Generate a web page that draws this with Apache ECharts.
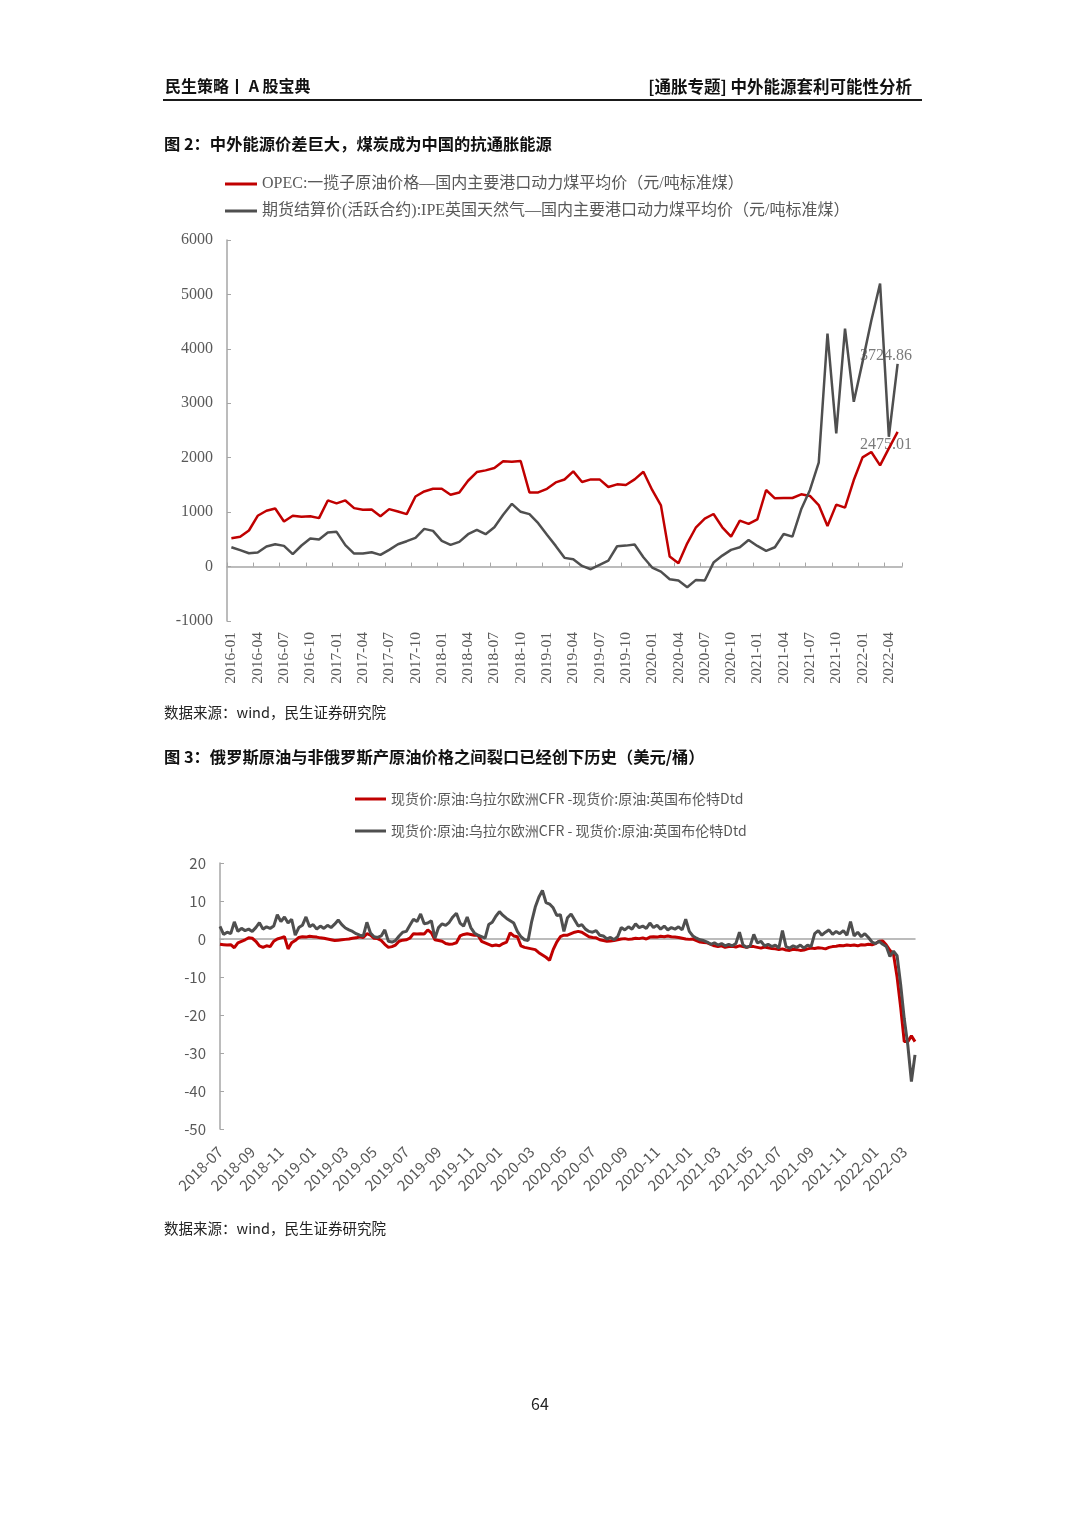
<!DOCTYPE html>
<html><head><meta charset="utf-8">
<script src="https://cdn.jsdelivr.net/npm/echarts@6/dist/echarts.min.js"></script>
<style>html,body{margin:0;padding:0;background:#fff}#c{width:1080px;height:1530px}</style>
</head><body><div id="c"></div>
<script>
// ---------- Chart 1 (monthly, 2016-01 .. 2022-05) ----------
const c1Start = [2016, 1];
const c1Count = 77;
const c1Names = ['OPEC:一揽子原油价格—国内主要港口动力煤平均价（元/吨标准煤）',
                 '期货结算价(活跃合约):IPE英国天然气—国内主要港口动力煤平均价（元/吨标准煤）'];
const c1Red = [521,546,663,933,1025,1067,828,933,914,926,
  890,1215,1160,1215,1074,1043,1049,926,1055,1012,
  963,1288,1380,1429,1429,1319,1362,1577,1736,1767,
  1810,1933,1926,1939,1362,1362,1429,1546,1600,1749,
  1554,1602,1602,1462,1511,1498,1602,1743,1407,1125,
  183,61,428,722,881,966,722,550,844,783,
  869,1407,1254,1260,1260,1327,1297,1131,746,1138,
  1083,1590,2006,2104,1859,2171,2475.01];
const c1Gray = [356,301,245,258,368,411,380,227,387,515,
  497,626,638,393,239,239,264,215,307,411,
  466,528,693,656,472,399,454,595,675,595,
  724,951,1153,1006,963,798,583,380,160,135,
  12,-49,31,110,373,385,404,171,-18,-92,
  -232,-257,-379,-245,-257,73,202,306,355,489,
  379,287,355,599,550,1052,1407,1908,4281,2446,
  4373,3028,3761,4520,5199,2385,3724.86];
const c1YTicks = {min: -1000, max: 6000, interval: 1000};

// ---------- Chart 2 (weekly samples, 2018-07 .. 2022-03) ----------
const c2StartDate = '2018-07-02';
const c2Names = ['现货价:原油:乌拉尔欧洲CFR -现货价:原油:英国布伦特Dtd',
                 '现货价:原油:乌拉尔欧洲CFR - 现货价:原油:英国布伦特Dtd'];
const c2Red = [-1.4,-1.5,-1.6,-1.5,-2.3,-1.0,-0.6,-0.2,0.3,0.2,
  -0.6,-1.8,-2.2,-1.8,-2.0,-0.6,0.0,0.3,0.6,-2.6,
  -1.0,-0.4,0.4,0.6,0.5,0.7,0.6,0.5,0.3,0.2,
  0.0,-0.2,-0.4,-0.3,-0.2,-0.1,0.0,0.2,0.3,0.6,
  0.4,1.4,1.0,0.2,0.1,-0.4,-1.4,-2.2,-2.0,-1.6,
  -0.6,-0.3,-0.2,0.2,1.4,1.3,1.4,1.3,2.4,1.6,
  -0.2,-0.4,-0.6,-1.2,-1.4,-1.3,-1.0,0.8,1.2,1.4,
  1.2,1.0,1.0,-0.6,-1.0,-1.4,-1.8,-1.6,-1.8,-1.2,
  -0.8,1.6,0.8,0.6,-1.8,-2.2,-2.4,-2.6,-2.8,-3.6,
  -4.2,-4.8,-5.6,-2.8,-0.8,0.6,1.0,1.0,
  1.4,1.8,2.0,1.8,1.2,0.6,0.4,0.3,-0.2,-0.4,
  -0.6,-0.5,-0.4,-0.2,0.0,0.1,-0.1,0.0,0.2,0.1,
  0.3,0.0,0.5,0.6,0.5,0.7,0.6,0.8,0.6,0.5,
  0.4,0.2,0.0,-0.1,0.0,-0.4,-0.8,-0.9,-1.0,-1.4,
  -1.8,-2.0,-1.8,-2.2,-2.0,-1.9,-2.1,-1.8,-2.0,-2.2,
  -1.9,-2.0,-2.2,-2.4,-2.1,-2.3,-2.5,-2.6,-2.8,-2.6,
  -2.9,-3.0,-2.7,-2.8,-3.0,-2.9,-2.6,-2.4,-2.5,-2.3,
  -2.4,-2.6,-2.2,-2.0,-1.9,-1.7,-1.8,-1.6,-1.7,-1.6,
  -1.8,-1.5,-1.6,-1.4,-1.5,-1.2,-0.6,-0.5,-1.6,-3.0,
  -4.0,-10.0,-18.0,-27.0,-27.0,-25.5,-27.0];
const c2Gray = [3.3,1.2,1.8,1.4,4.5,2.0,2.8,2.2,2.6,2.0,
  3.0,4.3,2.6,3.2,2.8,3.4,6.4,4.6,5.8,4.2,
  5.2,1.0,3.0,3.6,5.8,3.2,3.8,2.6,3.4,2.8,
  3.6,3.0,3.9,5.0,3.8,2.9,2.4,2.0,1.4,1.0,
  0.8,4.4,1.6,0.6,0.4,0.8,2.4,-0.6,-0.8,-0.4,
  0.8,1.8,2.0,3.6,5.2,4.6,6.6,4.0,4.2,4.8,
  0.2,3.0,4.0,3.6,4.4,5.8,6.8,4.2,3.4,5.8,
  3.0,1.6,1.0,0.6,0.2,3.8,4.4,6.0,7.2,6.2,
  5.4,4.8,4.2,2.0,0.6,-0.2,-0.4,4.6,8.4,11.0,
  12.8,9.6,9.2,8.2,6.2,6.4,2.0,5.6,
  6.6,5.0,3.4,3.8,2.6,2.0,1.8,2.2,1.0,0.8,
  0.0,0.4,-0.2,0.6,3.0,2.4,3.2,2.6,4.0,3.0,
  3.4,2.8,4.2,3.0,3.6,2.6,3.4,2.4,3.0,2.6,
  3.2,2.4,5.2,2.0,0.8,0.2,-0.2,-0.4,-0.8,-1.4,
  -1.0,-1.6,-1.2,-1.8,-1.4,-1.8,-1.2,1.8,-1.6,-2.2,
  -1.8,1.2,-1.0,-0.6,-1.8,-1.4,-2.0,-1.6,-2.4,2.2,
  -2.0,-2.4,-1.8,-2.2,-1.6,-2.4,-1.6,-2.0,1.4,2.2,
  1.0,1.8,2.4,1.2,2.0,1.4,2.2,1.0,4.6,0.8,
  1.8,0.6,1.4,0.4,-0.8,-1.2,-0.6,-1.4,-2.0,-4.6,
  -3.2,-4.4,-12.0,-21.0,-28.0,-37.5,-30.5];
const c2YTicks = {min: -50, max: 20, interval: 10};

// ---------- categories ----------
const pad = n => (n < 10 ? '0' : '') + n;
const c1Cats = [];
for (let i = 0; i < c1Count; i++) {
  const m0 = c1Start[1] - 1 + i;
  c1Cats.push((c1Start[0] + Math.floor(m0 / 12)) + '-' + pad(m0 % 12 + 1));
}
const c2Cats = [];
const t0 = Date.parse(c2StartDate + 'T00:00:00Z');
for (let k = 0; k < c2Gray.length; k++) {
  const d = new Date(t0 + k * 7 * 86400000);
  c2Cats.push(d.getUTCFullYear() + '-' + pad(d.getUTCMonth() + 1) + '-' + pad(d.getUTCDate()));
}
// label indices: week closest to the 1st of every odd month
const c2LabelIdx = {};
for (let y = 2018; y <= 2022; y++) {
  for (let m = 1; m <= 12; m += 2) {
    const tm = Date.UTC(y, m - 1, 1);
    if (tm < t0 - 86400000 * 4 || tm > t0 + (c2Cats.length - 1) * 7 * 86400000) continue;
    let best = 0, bd = Infinity;
    for (let k = 0; k < c2Cats.length; k++) {
      const dd = Math.abs(t0 + k * 7 * 86400000 - tm);
      if (dd < bd) { bd = dd; best = k; }
    }
    c2LabelIdx[best] = y + '-' + pad(m);
  }
}

const RED = '#C00000', GRAY = '#4F4F4F', AX = '#A6A6A6', TXT = '#595959';
const SERIF = "'Liberation Serif','Noto Sans CJK SC',serif";
const SANS = "'Noto Sans CJK SC','Noto Sans',sans-serif";

const chart = echarts.init(document.getElementById('c'), null, {renderer: 'canvas'});
const legendBase = {padding: 0, icon: 'rect', itemHeight: 3};
const option = {
  animation: false,
  backgroundColor: '#fff',
  grid: [
    {left: 227, top: 240, width: 675, height: 381, containLabel: false},
    {left: 220, top: 863, width: 695, height: 266, containLabel: false}
  ],
  legend: [
    Object.assign({data: [c1Names[0]], left: 225, top: 176, itemWidth: 32,
     textStyle: {fontFamily: SERIF, fontSize: 16, color: TXT}}, legendBase),
    Object.assign({data: [c1Names[1]], left: 225, top: 203, itemWidth: 32,
     textStyle: {fontFamily: SERIF, fontSize: 16, color: TXT}}, legendBase),
    Object.assign({data: [c2Names[0]], left: 355, top: 792, itemWidth: 31,
     textStyle: {fontFamily: SANS, fontSize: 14, color: TXT}}, legendBase),
    Object.assign({data: [c2Names[1]], left: 355, top: 824, itemWidth: 31,
     textStyle: {fontFamily: SANS, fontSize: 14, color: TXT}}, legendBase)
  ],
  xAxis: [
    {type: 'category', gridIndex: 0, data: c1Cats, boundaryGap: true, position: 'bottom',
     axisLine: {show: true, onZero: true, lineStyle: {color: AX, width: 1.5}},
     axisTick: {show: true, inside: true, length: 4, interval: 2, alignWithLabel: false, lineStyle: {color: AX}},
     axisLabel: {show: false}, splitLine: {show: false}},
    {type: 'category', gridIndex: 0, data: c1Cats, boundaryGap: true, position: 'bottom',
     axisLine: {show: false, onZero: false}, axisTick: {show: false},
     axisLabel: {show: true, interval: 2, rotate: 90, margin: 11, fontFamily: SERIF, fontSize: 15.5, color: TXT},
     splitLine: {show: false}},
    {type: 'category', gridIndex: 1, data: c2Cats, boundaryGap: false, position: 'bottom',
     axisLine: {show: true, onZero: true, lineStyle: {color: AX, width: 1.5}},
     axisTick: {show: false}, axisLabel: {show: false}, splitLine: {show: false}},
    {type: 'category', gridIndex: 1, data: c2Cats, boundaryGap: false, position: 'bottom',
     axisLine: {show: false, onZero: false}, axisTick: {show: false},
     axisLabel: {show: true, rotate: 45, margin: 20, fontFamily: SANS, fontSize: 15, color: TXT,
       interval: (idx) => c2LabelIdx[idx] !== undefined,
       formatter: (v, idx) => c2LabelIdx[idx] || ''},
     splitLine: {show: false}}
  ],
  yAxis: [
    {type: 'value', gridIndex: 0, min: c1YTicks.min, max: c1YTicks.max, interval: c1YTicks.interval,
     axisLine: {show: true, lineStyle: {color: AX, width: 1.5}},
     axisTick: {show: true, inside: true, length: 4, lineStyle: {color: AX}},
     axisLabel: {margin: 14, fontFamily: SERIF, fontSize: 16, color: TXT, formatter: v => String(v)},
     splitLine: {show: false}},
    {type: 'value', gridIndex: 1, min: c2YTicks.min, max: c2YTicks.max, interval: c2YTicks.interval,
     axisLine: {show: true, lineStyle: {color: AX, width: 1.5}},
     axisTick: {show: true, inside: true, length: 4, lineStyle: {color: AX}},
     axisLabel: {margin: 14, fontFamily: SANS, fontSize: 15, color: TXT, formatter: v => String(v)},
     splitLine: {show: false}}
  ],
  series: [
    {name: c1Names[0], type: 'line', xAxisIndex: 0, yAxisIndex: 0, data: c1Red, symbol: 'none',
     itemStyle: {color: RED}, lineStyle: {color: RED, width: 2.5}},
    {name: c1Names[1], type: 'line', xAxisIndex: 0, yAxisIndex: 0, data: c1Gray, symbol: 'none',
     itemStyle: {color: GRAY}, lineStyle: {color: GRAY, width: 2.5}},
    {type: 'scatter', xAxisIndex: 0, yAxisIndex: 0, silent: true, symbolSize: 2,
     itemStyle: {color: 'rgba(0,0,0,0)'},
     data: [[c1Cats[c1Count - 1], c1Gray[c1Count - 1]]],
     label: {show: true, position: 'inside', offset: [-11.6, -8], color: TXT, fontFamily: SERIF, fontSize: 16,
       formatter: p => p.value[1].toFixed(2)}},
    {type: 'scatter', xAxisIndex: 0, yAxisIndex: 0, silent: true, symbolSize: 2,
     itemStyle: {color: 'rgba(0,0,0,0)'},
     data: [[c1Cats[c1Count - 1], c1Red[c1Count - 1]]],
     label: {show: true, position: 'inside', offset: [-11.6, 13], color: TXT, fontFamily: SERIF, fontSize: 16,
       formatter: p => p.value[1].toFixed(2)}},
    {name: c2Names[0], type: 'line', xAxisIndex: 2, yAxisIndex: 1, data: c2Red, symbol: 'none',
     itemStyle: {color: RED}, lineStyle: {color: RED, width: 3}},
    {name: c2Names[1], type: 'line', xAxisIndex: 2, yAxisIndex: 1, data: c2Gray, symbol: 'none',
     itemStyle: {color: GRAY}, lineStyle: {color: GRAY, width: 3}}
  ],
  graphic: [
    {type: 'text', left: 165, top: 78, style: {text: '民生策略丨 A 股宝典', fontFamily: SANS, fontWeight: 'bold', fontSize: 16, fill: '#111'}},
    {type: 'text', right: 168, top: 78, style: {text: '[通胀专题] 中外能源套利可能性分析', fontFamily: SANS, fontWeight: 'bold', fontSize: 16.5, fill: '#111'}},
    {type: 'line', shape: {x1: 163, y1: 100, x2: 922, y2: 100}, style: {stroke: '#1a1a1a', lineWidth: 2}},
    {type: 'text', left: 164, top: 136, style: {text: '图 2：中外能源价差巨大，煤炭成为中国的抗通胀能源', fontFamily: SANS, fontWeight: 'bold', fontSize: 16.3, fill: '#111'}},
    {type: 'text', left: 164, top: 705, style: {text: '数据来源：wind，民生证券研究院', fontFamily: SANS, fontSize: 14.5, fill: '#222'}},
    {type: 'text', left: 164, top: 749, style: {text: '图 3：俄罗斯原油与非俄罗斯产原油价格之间裂口已经创下历史（美元/桶）', fontFamily: SANS, fontWeight: 'bold', fontSize: 16.3, fill: '#111'}},
    {type: 'text', left: 164, top: 1221, style: {text: '数据来源：wind，民生证券研究院', fontFamily: SANS, fontSize: 14.5, fill: '#222'}},
    {type: 'text', left: 531, top: 1396, style: {text: '64', fontFamily: SANS, fontSize: 16, fill: '#222'}}
  ]
};
chart.setOption(option);
</script>
</body></html>
